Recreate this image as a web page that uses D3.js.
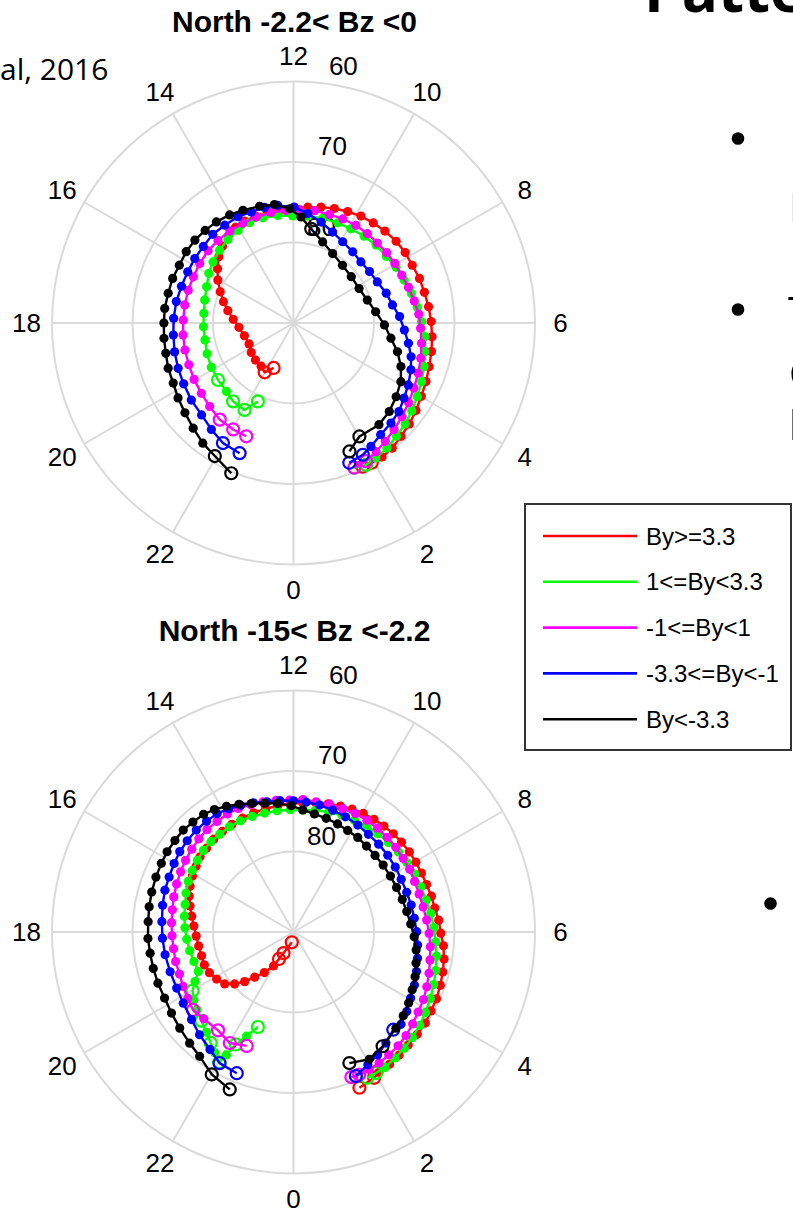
<!DOCTYPE html>
<html><head><meta charset="utf-8">
<script src="https://cdn.jsdelivr.net/npm/d3@7"></script>
<style>body{margin:0;background:#fff;overflow:hidden} .edge{filter:grayscale(100%)}</style>
</head><body>
<svg id="chart" width="793" height="1210"></svg>
<script>
// ---------- data ----------
const hourTicks = [0,2,4,6,8,10,12,14,16,18,20,22];
const latRings = [80,70,60];
const seriesLabels = ["By>=3.3","1<=By<3.3","-1<=By<1","-3.3<=By<-1","By<-3.3"];
const seriesColors = ["#ff0000","#00ff00","#ff00ff","#0000ff","#000000"];
const panelTitles = ["North -2.2< Bz <0","North -15< Bz <-2.2"];
// each point: [MLT hour, magnetic latitude, open-marker flag]
const topRed = [[22.41,83.9,1],[21.98,82.9,1],[21.54,83.3,0],[20.95,83.4,0],[20.33,83.6,0],[19.68,83.9,0],[18.97,83.7,0],[18.30,83.2,0],[17.77,82.5,0],[17.29,81.7,0],[16.87,80.9,0],[16.46,80.1,0],[16.03,79.2,0],[15.63,78.4,0],[15.23,77.6,0],[14.85,77.0,0],[14.46,76.5,0],[14.08,76.1,0],[13.71,75.95,0],[13.30,75.9,0],[12.87,75.85,0],[12.41,75.8,0],[11.97,75.7,0],[11.53,75.5,0],[11.11,75.2,0],[10.69,74.9,0],[10.27,74.6,0],[9.85,74.3,0],[9.43,74.1,0],[9.01,73.9,0],[8.57,73.7,0],[8.15,73.6,0],[7.73,73.6,0],[7.30,73.4,0],[6.88,73.3,0],[6.46,73.1,0],[6.04,72.9,0],[5.62,72.7,0],[5.22,72.5,0],[4.81,72.3,0],[4.41,72.0,0],[4.01,71.7,0],[3.63,71.3,0],[3.26,70.9,0],[2.90,70.6,0],[2.55,70.2,0],[2.23,70.05,0],[1.95,70.1,1],[1.71,70.2,1]];
const topGreen = [[22.37,79.3,1],[22.04,77.6,1],[21.49,77.7,1],[21.04,78.1,0],[20.47,78.25,1],[19.89,78.4,0],[19.31,78.6,0],[18.72,78.8,0],[18.16,78.8,0],[17.59,78.8,0],[17.03,78.6,0],[16.49,78.3,0],[15.97,77.8,0],[15.52,77.45,0],[15.03,77.1,0],[14.54,76.8,0],[14.06,76.6,0],[13.58,76.4,0],[13.08,76.4,0],[12.55,76.5,0],[12.03,76.7,0],[11.49,76.6,0],[10.96,76.5,0],[10.41,76.4,0],[9.91,76.3,0],[9.39,76.1,0],[8.89,75.9,0],[8.38,75.8,0],[7.90,75.5,0],[7.41,75.25,0],[6.94,74.9,0],[6.48,74.5,0],[6.04,74.1,0],[5.60,73.6,0],[5.18,73.3,0],[4.77,72.9,0],[4.36,72.5,0],[3.95,72.1,0],[3.56,71.7,0],[3.19,71.3,0],[2.82,71.0,0],[2.45,70.6,0],[2.09,70.35,0],[1.81,70.2,1],[1.52,70.5,1]];
const topMagenta = [[22.49,74.75,1],[22.03,74.8,1],[21.51,74.9,1],[20.99,75.3,0],[20.49,75.6,0],[19.97,75.8,0],[19.45,76.0,0],[18.93,76.1,0],[18.41,76.2,0],[17.90,76.3,0],[17.37,76.3,0],[16.85,76.3,0],[16.35,76.3,0],[15.84,76.2,0],[15.32,76.1,0],[14.83,76.1,0],[14.31,76.1,0],[13.79,76.1,0],[13.29,76.05,0],[12.76,76.0,0],[12.25,76.0,0],[11.80,75.9,0],[11.29,75.8,0],[10.78,75.8,0],[10.31,75.7,0],[9.83,75.6,0],[9.36,75.6,0],[8.91,75.6,0],[8.47,75.5,0],[8.03,75.4,0],[7.59,75.3,0],[7.15,75.05,0],[6.69,74.75,0],[6.27,74.4,0],[5.84,74.2,0],[5.40,73.9,0],[4.97,73.6,0],[4.54,73.3,0],[4.11,73.0,0],[3.69,72.6,0],[3.28,72.2,0],[2.89,71.8,0],[2.52,71.4,0],[2.18,71.0,0],[1.85,70.6,1],[1.52,70.5,1]];
const topBlue = [[22.5,72.5,1],[21.97,72.7,1],[21.49,73.3,0],[21.0,73.85,0],[20.47,74.1,0],[19.93,74.4,0],[19.43,74.6,0],[18.91,74.8,0],[18.38,75.0,0],[17.85,75.1,0],[17.31,75.2,0],[16.79,75.35,0],[16.28,75.4,0],[15.79,75.35,0],[15.31,75.3,0],[14.82,75.1,0],[14.34,75.15,0],[13.84,75.1,0],[13.39,75.25,0],[12.94,75.2,0],[12.51,75.25,0],[11.98,75.6,0],[11.51,76.3,0],[10.98,77.0,0],[10.45,77.7,0],[9.92,78.2,0],[9.35,78.5,0],[8.81,78.7,0],[8.27,78.6,0],[7.74,78.4,0],[7.19,77.9,0],[6.69,77.5,0],[6.23,76.8,0],[5.76,76.2,0],[5.33,75.5,0],[4.93,74.8,0],[4.55,74.3,0],[4.11,73.8,0],[3.72,73.4,0],[3.33,72.9,0],[2.95,72.65,0],[2.53,72.4,0],[2.14,71.9,0],[1.85,71.5,1],[1.45,71.3,1]];
const topBlack = [[22.5,69.8,1],[21.96,70.8,1],[21.53,71.3,0],[21.09,71.95,0],[20.64,72.5,0],[20.2,72.9,0],[19.77,73.3,0],[19.32,73.45,0],[18.89,73.7,0],[18.45,73.8,0],[18.0,73.9,0],[17.57,73.9,0],[17.11,74.0,0],[16.65,74.0,0],[16.21,74.1,0],[15.76,74.0,0],[15.33,74.0,0],[14.91,74.1,0],[14.49,74.2,0],[14.04,74.4,0],[13.61,74.65,0],[13.08,74.9,0],[12.61,75.1,0],[12.13,75.8,0],[11.73,76.8,0],[11.29,78.1,1],[10.68,79.3,0],[10.04,80.1,0],[9.31,80.6,0],[8.58,80.8,0],[7.85,80.8,0],[7.15,80.4,0],[6.52,79.7,0],[5.92,78.7,0],[5.41,77.75,0],[4.97,76.6,0],[4.53,75.6,0],[4.09,74.8,0],[3.62,74.3,0],[3.15,73.8,0],[2.67,73.5,0],[2.01,73.7,1],[1.57,72.6,1]];
const botRed = [[23.37,88.7,1],[22.32,87.1,1],[22.11,86.2,1],[21.97,85.1,0],[21.62,83.8,0],[21.29,82.6,0],[21.03,81.35,0],[20.76,80.25,0],[20.47,79.3,0],[20.1,78.8,0],[19.72,78.4,0],[19.35,78.2,0],[18.97,78.2,0],[18.56,78.1,0],[18.16,77.9,0],[17.77,77.6,0],[17.41,77.2,0],[17.06,76.75,0],[16.73,76.3,0],[16.41,75.95,0],[16.07,75.65,0],[15.73,75.4,0],[15.41,75.1,0],[15.07,75.0,0],[14.71,74.8,0],[14.35,74.7,0],[13.98,74.6,0],[13.61,74.5,0],[13.23,74.4,0],[12.85,74.3,0],[12.47,74.2,0],[12.1,74.1,0],[11.73,73.9,0],[11.35,73.7,0],[10.99,73.5,0],[10.64,73.3,0],[10.3,73.1,0],[9.97,72.9,0],[9.63,72.8,0],[9.3,72.7,0],[8.97,72.6,0],[8.65,72.55,0],[8.31,72.5,0],[7.98,72.5,0],[7.65,72.5,0],[7.31,72.45,0],[6.97,72.3,0],[6.64,72.2,0],[6.31,71.9,0],[5.97,71.7,0],[5.65,71.3,0],[5.32,71.0,0],[5.0,70.8,0],[4.67,70.6,0],[4.33,70.4,0],[4.01,70.3,0],[3.69,70.1,0],[3.36,70.05,0],[3.03,70.0,0],[2.71,69.85,0],[2.4,69.7,0],[2.09,69.6,0],[1.93,69.3,1],[1.53,69.0,1]];
const botGreen = [[22.63,77.4,1],[22.38,75.8,0],[22.19,74.3,1],[22.09,72.6,0],[22.02,71.35,1],[21.79,72.1,0],[21.55,72.8,1],[21.27,73.5,0],[20.93,74.1,1],[20.59,74.6,0],[20.29,75.0,0],[20.01,75.5,1],[19.78,76.3,0],[19.5,77.2,0],[19.1,77.1,0],[18.68,76.9,0],[18.26,76.7,0],[17.85,76.5,0],[17.45,76.3,0],[17.05,76.1,0],[16.67,75.8,0],[16.29,75.5,0],[15.92,75.3,0],[15.55,75.1,0],[15.19,74.9,0],[14.83,74.8,0],[14.47,74.8,0],[14.09,74.7,0],[13.7,74.7,0],[13.31,74.75,0],[12.91,74.8,0],[12.51,74.8,0],[12.1,74.8,0],[11.71,74.8,0],[11.32,74.6,0],[10.91,74.5,0],[10.49,74.3,0],[10.09,74.2,0],[9.69,74.0,0],[9.29,73.9,0],[8.89,73.8,0],[8.49,73.6,0],[8.1,73.5,0],[7.71,73.3,0],[7.3,73.2,0],[6.9,73.05,0],[6.51,72.8,0],[6.12,72.55,0],[5.73,72.3,0],[5.36,72.0,0],[4.99,71.7,0],[4.63,71.4,0],[4.27,71.1,0],[3.91,70.8,0],[3.57,70.5,0],[3.23,70.25,0],[2.91,70.05,0],[2.59,69.9,0],[2.27,69.7,0],[2.02,69.7,1],[1.79,69.7,1]];
const botMagenta = [[22.51,74.7,1],[22.01,74.1,1],[21.5,74.6,1],[20.94,74.5,0],[20.52,74.2,1],[20.14,74.5,0],[19.75,74.7,0],[19.35,74.9,0],[18.94,74.9,0],[18.53,74.95,0],[18.12,74.9,0],[17.71,74.8,0],[17.31,74.7,0],[16.91,74.5,0],[16.51,74.3,0],[16.13,74.1,0],[15.76,73.9,0],[15.39,73.7,0],[15.03,73.5,0],[14.68,73.35,0],[14.31,73.3,0],[13.95,73.2,0],[13.6,73.2,0],[13.24,73.3,0],[12.88,73.4,0],[12.5,73.5,0],[12.11,73.6,0],[11.73,73.5,0],[11.34,73.6,0],[10.95,73.5,0],[10.55,73.5,0],[10.16,73.4,0],[9.78,73.4,0],[9.4,73.4,0],[9.02,73.45,0],[8.64,73.5,0],[8.26,73.6,0],[7.89,73.6,0],[7.51,73.7,0],[7.12,73.7,0],[6.73,73.6,0],[6.34,73.4,0],[5.96,73.15,0],[5.59,72.9,0],[5.23,72.7,0],[4.87,72.4,0],[4.51,72.1,0],[4.17,71.8,0],[3.82,71.6,0],[3.49,71.3,0],[3.16,71.0,0],[2.84,70.8,0],[2.52,70.7,0],[2.21,70.55,0],[1.92,70.5,0],[1.65,70.5,1],[1.45,70.6,1]];
const botBlue = [[22.54,71.1,1],[22.04,71.3,1],[21.64,72.1,0],[21.17,72.7,0],[20.71,73.3,0],[20.19,73.7,0],[19.71,73.9,0],[19.19,73.9,0],[18.67,73.8,0],[18.18,73.7,0],[17.7,73.6,0],[17.23,73.4,0],[16.8,73.2,0],[16.41,73.1,0],[16.01,72.9,0],[15.65,72.7,0],[15.29,72.6,0],[14.91,72.5,0],[14.54,72.5,0],[14.19,72.5,0],[13.85,72.7,0],[13.51,72.95,0],[13.15,73.2,0],[12.77,73.5,0],[12.39,73.6,0],[12.0,73.7,0],[11.63,73.8,0],[11.23,73.9,0],[10.81,74.1,0],[10.38,74.3,0],[9.93,74.5,0],[9.5,74.7,0],[9.06,74.8,0],[8.61,74.9,0],[8.17,75.0,0],[7.74,75.1,0],[7.29,75.1,0],[6.86,75.0,0],[6.43,74.9,0],[6.01,74.7,0],[5.6,74.5,0],[5.2,74.25,0],[4.81,73.95,0],[4.42,73.6,0],[4.04,73.3,0],[3.66,72.8,0],[3.29,72.4,0],[3.04,72.65,1],[2.65,72.05,0],[2.29,71.5,0],[1.95,71.1,0],[1.56,70.5,1]];
const botBlack = [[22.53,68.9,1],[22.01,69.6,1],[21.53,70.65,0],[21.13,71.1,0],[20.68,71.5,0],[20.24,71.8,0],[19.81,72.0,0],[19.38,72.0,0],[18.97,72.0,0],[18.56,72.0,0],[18.17,71.9,0],[17.73,71.9,0],[17.34,71.8,0],[16.95,71.7,0],[16.55,71.6,0],[16.17,71.5,0],[15.84,71.4,0],[15.49,71.4,0],[15.15,71.35,0],[14.83,71.5,0],[14.49,71.6,0],[14.19,71.9,0],[13.87,72.3,0],[13.54,72.75,0],[13.21,73.2,0],[12.84,73.6,0],[12.47,73.9,0],[12.07,74.3,0],[11.71,74.8,0],[11.33,75.1,0],[10.93,75.3,0],[10.52,75.5,0],[10.13,75.7,0],[9.72,75.8,0],[9.31,76.0,0],[8.88,76.1,0],[8.45,76.1,0],[8.0,76.1,0],[7.56,76.05,0],[7.11,75.9,0],[6.68,75.7,0],[6.26,75.4,0],[5.85,75.0,0],[5.44,74.6,0],[5.05,74.3,0],[4.65,73.9,0],[4.27,73.6,0],[3.89,73.2,0],[3.51,72.85,0],[3.12,72.55,0],[2.53,72.0,1],[2.05,71.6,0],[1.54,72.3,1]];

// ---------- drawing ----------
const svg = d3.select("#chart");
const FONT = "'Liberation Sans', Arial, Helvetica, sans-serif";
const R60 = 241.5;
const rScale = d3.scaleLinear().domain([90, 60]).range([0, R60]);
const aScale = d3.scaleLinear().domain([0, 24]).range([Math.PI, -Math.PI]);
const GRID = "#dadada";

svg.append("rect").attr("width", 793).attr("height", 1210).attr("fill", "#fff");

function drawPanel(cx, cy, title, seriesList) {
  const g = svg.append("g").attr("transform", `translate(${cx},${cy})`);
  g.selectAll("circle.ring").data(latRings).join("circle").attr("class", "ring")
    .attr("r", d => rScale(d)).attr("fill", "none").attr("stroke", GRID).attr("stroke-width", 2);
  g.selectAll("line.spoke").data(hourTicks).join("line").attr("class", "spoke")
    .attr("x1", 0).attr("y1", 0)
    .attr("x2", d => d3.pointRadial(aScale(d), R60)[0])
    .attr("y2", d => d3.pointRadial(aScale(d), R60)[1])
    .attr("stroke", GRID).attr("stroke-width", 2);
  g.selectAll("text.hour").data(hourTicks).join("text").attr("class", "hour")
    .attr("x", d => d3.pointRadial(aScale(d), R60 + 25.5)[0])
    .attr("y", d => d3.pointRadial(aScale(d), R60 + 25.5)[1])
    .attr("text-anchor", "middle").attr("dominant-baseline", "central")
    .attr("font-family", FONT).attr("font-size", 26).attr("fill", "#000")
    .text(d => d);
  g.selectAll("text.lat").data(latRings).join("text").attr("class", "lat")
    .attr("x", d => 0.136 * rScale(d) + 17)
    .attr("y", d => -(rScale(d) + 16))
    .attr("text-anchor", "middle").attr("dominant-baseline", "central")
    .attr("font-family", FONT).attr("font-size", 26).attr("fill", "#000")
    .text(d => d);
  g.append("text").attr("x", 1).attr("y", -291).attr("text-anchor", "middle")
    .attr("font-family", FONT).attr("font-weight", "bold").attr("font-size", 30)
    .attr("fill", "#000").text(title);

  const line = d3.lineRadial().angle(d => aScale(d[0])).radius(d => rScale(d[1]));
  seriesList.forEach((pts, i) => {
    const col = seriesColors[i];
    const sg = g.append("g");
    sg.append("path").attr("d", line(pts)).attr("fill", "none")
      .attr("stroke", col).attr("stroke-width", 2.4).attr("stroke-linejoin", "round");
    sg.selectAll("circle.pt").data(pts).join("circle").attr("class", "pt")
      .attr("cx", d => d3.pointRadial(aScale(d[0]), rScale(d[1]))[0])
      .attr("cy", d => d3.pointRadial(aScale(d[0]), rScale(d[1]))[1])
      .attr("r", d => d[2] ? 6 : 4.6)
      .attr("fill", d => d[2] ? "none" : col)
      .attr("stroke", col).attr("stroke-width", d => d[2] ? 2.2 : 0);
  });
}

drawPanel(293.5, 323, panelTitles[0], [topRed, topGreen, topMagenta, topBlue, topBlack]);
drawPanel(293.5, 932, panelTitles[1], [botRed, botGreen, botMagenta, botBlue, botBlack]);

// legend
const lg = svg.append("g");
lg.append("rect").attr("x", 525).attr("y", 504).attr("width", 266).attr("height", 246)
  .attr("fill", "#fff").attr("stroke", "#333").attr("stroke-width", 2);
seriesLabels.forEach((lab, i) => {
  const y = 536 + i * 45.8;
  lg.append("line").attr("x1", 543).attr("x2", 637).attr("y1", y).attr("y2", y)
    .attr("stroke", seriesColors[i]).attr("stroke-width", 2.6);
  lg.append("text").attr("x", 646).attr("y", y).attr("dominant-baseline", "central")
    .attr("font-family", FONT).attr("font-size", 24).attr("fill", "#000").text(lab);
});

// slide remnants
const SLIDE = "'Open Sans', 'Noto Sans', sans-serif";
svg.append("text").attr("x", 0).attr("y", 80)
  .attr("font-family", SLIDE).attr("font-size", 30).attr("fill", "#000").text("al, 2016");
svg.append("text").attr("x", 644).attr("y", 12).attr("font-family", SLIDE)
  .attr("font-weight", 700).attr("font-size", 60).attr("fill", "#000").text("Patterns");
[[738, 138.5], [738, 309.5], [770.5, 903.5]].forEach(p =>
  svg.append("circle").attr("cx", p[0]).attr("cy", p[1]).attr("r", 6.3).attr("fill", "#000"));
const edge = svg.append("g").attr("class", "edge");
[["l", 791, 155], ["B", 789, 222], ["T", 788, 326], ["C", 789, 388], ["b", 789, 440]].forEach(t =>
  edge.append("text").attr("x", t[1]).attr("y", t[2]).attr("font-family", SLIDE)
    .attr("font-size", 40).attr("fill", "#000").text(t[0]));
</script>
</body></html>
